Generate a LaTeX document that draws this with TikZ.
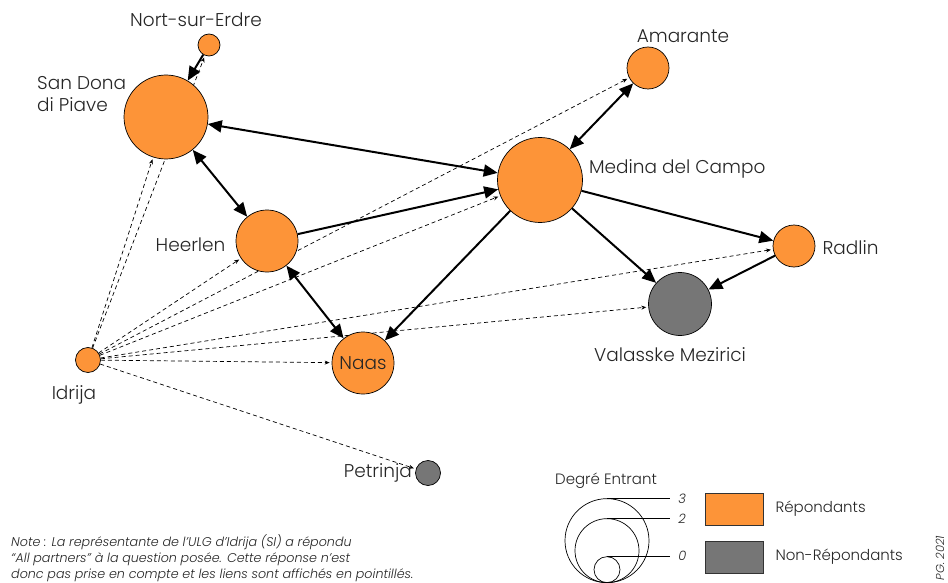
\documentclass[tikz,border=0pt]{standalone}
\usepackage{fontspec}
\setmainfont{Poppins Light}
\usetikzlibrary{positioning,arrows.meta,backgrounds}
\definecolor{repond}{RGB}{253,148,56}
\definecolor{nonrep}{RGB}{118,118,118}
\tikzset{
  ville/.style={circle,draw=black,line width=0.7pt,fill=repond,inner sep=0pt},
  nonville/.style={ville,fill=nonrep},
  lbl/.style={font=\fontsize{18.5}{21.5}\selectfont,text=black!85,inner sep=0pt},
  petit/.style={font=\fontsize{15}{18}\selectfont,text=black!85,inner sep=0pt},
  note/.style={font=\fontsize{12.7}{16}\selectfont\itshape,text=black!85,inner sep=0pt},
  lien/.style={line width=2pt,-{Triangle[length=14pt,width=12pt]}},
  lienbi/.style={line width=2pt,{Triangle[length=14pt,width=12pt]}-{Triangle[length=14pt,width=12pt]}},
  pointille/.style={line width=0.7pt,dash pattern=on 4pt off 3pt,-{Stealth[length=5pt,width=4pt]},shorten >=2pt},
  legcercle/.style={circle,draw=black,line width=0.7pt,inner sep=0pt,anchor=south},
  legboite/.style={draw=black!80,line width=0.7pt,minimum width=58pt,minimum height=32pt,inner sep=0pt}
}
\begin{document}
\begin{tikzpicture}[x=1pt,y=-1pt]
\useasboundingbox (0,0) rectangle (948,583);
% villes
\node[ville,minimum size=22pt] (nort) at (209,45) {};
\node[ville,minimum size=84pt] (sandona) at (166,117) {};
\node[ville,minimum size=42pt] (amarante) at (648,68) {};
\node[ville,minimum size=85pt] (medina) at (540,180) {};
\node[ville,minimum size=62pt] (heerlen) at (267,241) {};
\node[ville,minimum size=62pt] (naas) at (363,363) {};
\node[ville,minimum size=42pt] (radlin) at (794,246) {};
\node[nonville,minimum size=63pt] (valasske) at (680,304) {};
\node[ville,minimum size=25pt] (idrija) at (88,360) {};
\node[nonville,minimum size=25pt] (petrinja) at (428,473) {};
% noms
\node[lbl,above=7pt of nort,xshift=-13pt] (nortlbl) {Nort-sur-Erdre};
\node[lbl,align=left,anchor=west] (sandonalbl) at (37,94) {San Dona\\di Piave};
\node[lbl,above=4pt of amarante,xshift=35pt] (amarantelbl) {Amarante};
\node[lbl,right=6pt of medina,yshift=11pt] (medinalbl) {Medina del Campo};
\node[lbl,left=10pt of heerlen,yshift=-4pt] (heerlenlbl) {Heerlen};
\node[lbl] (naaslbl) at (naas) {Naas};
\node[lbl,right=7pt of radlin,yshift=-2pt] (radlinlbl) {Radlin};
\node[lbl,below=12pt of valasske,xshift=-10pt] (valasskelbl) {Valasske Mezirici};
\node[lbl,below=13pt of idrija,xshift=-14pt] (idrijalbl) {Idrija};
\node[lbl,left=3pt of petrinja] (petrinjalbl) {Petrinja};
% liens
\begin{pgfonlayer}{background}
\draw[lien] (nort) -- (sandona);
\draw[lienbi] (sandona) -- (heerlen);
\draw[lienbi] (sandona) -- (medina);
\draw[lien] (heerlen) -- (medina);
\draw[lienbi] (heerlen) -- (naas);
\draw[lienbi] (amarante) -- (medina);
\draw[lien] (medina) -- (naas);
\draw[lien] (medina) -- (valasske);
\draw[lien] (medina) -- (radlin);
\draw[lien] (radlin) -- (valasske);
\foreach \v in {nort,sandona,amarante,medina,heerlen,radlin,valasske,naas,petrinja}
  \draw[pointille] (idrija) -- (\v);
\end{pgfonlayer}
% legende
\node[petit] (degre) at (606,481) {Degré Entrant};
\node[legcercle,minimum size=84pt] (deg3) at (607,583) {};
\node[legcercle,minimum size=64pt] (deg2) at (607,583) {};
\node[legcercle,minimum size=26pt] (deg0) at (607,583) {};
\coordinate[right=63pt of deg3.north] (fin3);
\coordinate[right=63pt of deg2.north] (fin2);
\coordinate[right=63pt of deg0.north] (fin0);
\draw[line width=0.7pt] (deg3.north) -- (fin3) node[petit,font=\fontsize{13}{15}\selectfont\itshape,right=8pt] {3};
\draw[line width=0.7pt] (deg2.north) -- (fin2) node[petit,font=\fontsize{13}{15}\selectfont\itshape,right=8pt] {2};
\draw[line width=0.7pt] (deg0.north) -- (fin0) node[petit,font=\fontsize{13}{15}\selectfont\itshape,right=8pt] {0};
\node[legboite,fill=repond] (boiterep) at (734,509) {};
\node[legboite,fill=nonrep] (boitenon) at (734,557) {};
\node[petit,right=12pt of boiterep] (replbl) {Répondants};
\node[petit,right=12pt of boitenon] (nonlbl) {Non-Répondants};
\node[note,anchor=north west,align=left] (note) at (11,534) {Note : La représentante de l’ULG d’Idrija (SI) a répondu\\“All partners” à la question posée. Cette réponse n’est\\donc pas prise en compte et les liens sont affichés en pointillés.};
\node[note,font=\fontsize{11.5}{12}\selectfont\itshape,rotate=90] (pg) at (940,558) {PG. 2021};
\end{tikzpicture}
\end{document}
